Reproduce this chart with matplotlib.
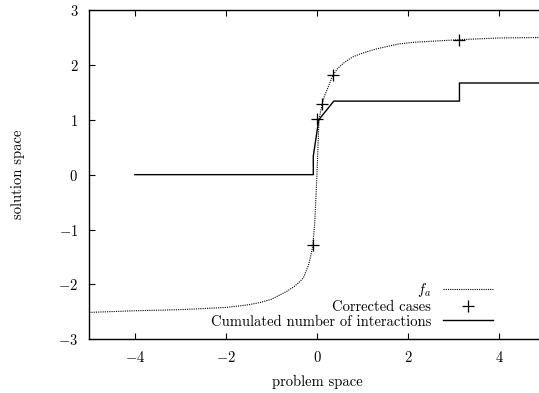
import numpy as np
import matplotlib
matplotlib.use("Agg")
import matplotlib.pyplot as plt

plt.rcParams['font.family'] = 'serif'
plt.rcParams['font.serif'] = ['cmr10']
plt.rcParams['mathtext.fontset'] = 'cm'
plt.rcParams['axes.unicode_minus'] = True
plt.rcParams['axes.formatter.use_mathtext'] = True

# f_a curve
fa_x = [-5.0, -4.0, -3.0, -2.0, -1.69, -1.5, -1.25, -1.0, -0.81, -0.65, -0.52, -0.40, -0.30,
        -0.19, -0.15, -0.12, -0.09, -0.05, 0.0,
        0.045, 0.11, 0.16, 0.22, 0.30, 0.36, 0.45, 0.58, 0.70, 0.80, 0.95, 1.10, 1.30, 1.46,
        1.79, 2.1, 2.5, 3.15, 4.0, 5.0]
fa_y = [-2.51, -2.48, -2.46, -2.42, -2.39, -2.37, -2.33, -2.27, -2.19, -2.12, -2.05, -1.97, -1.88,
        -1.66, -1.53, -1.42, -1.28, -0.9, 0.0,
        1.0, 1.27, 1.42, 1.54, 1.71, 1.82, 1.93, 2.03, 2.10, 2.15, 2.20, 2.24, 2.29, 2.32,
        2.38, 2.41, 2.43, 2.46, 2.49, 2.50]

# corrected cases
cc_x = [-0.09, 0.01, 0.10, 0.35, 3.13]
cc_y = [-1.28, 1.02, 1.28, 1.81, 2.46]

# cumulated number of interactions
ci_x = [-4.0, -0.08, -0.08, 0.04, 0.37, 3.13, 3.13, 5.0]
ci_y = [0.0, 0.0, 0.34, 1.0, 1.34, 1.34, 1.67, 1.67]

xticks = [-4, -2, 0, 2, 4]
yticks = [-3, -2, -1, 0, 1, 2, 3]

fig = plt.figure(figsize=(5.39, 3.93), dpi=100)
ax = fig.add_axes([89.3 / 539, 1 - 339.3 / 393, 455.3 / 539, 329.3 / 393])

ax.plot(fa_x, fa_y, color='black', lw=0.8, linestyle=(0, (1, 1)), label='$f_a$')
ax.plot(cc_x, cc_y, 'k+', ms=9, mew=0.9, linestyle='none', label='Corrected cases')
ax.plot(ci_x, ci_y, color='black', lw=1.0, label='Cumulated number of interactions')

ax.set_xlim(-5, 5)
ax.set_ylim(-3, 3)
ax.set_xticks(xticks)
ax.set_xticklabels(['$%d$' % t for t in xticks])
ax.set_yticks(yticks)
ax.set_yticklabels(['$%d$' % t for t in yticks])
ax.tick_params(direction='in', top=True, right=True, length=4, width=0.8,
               labelsize=10.5, pad=8)
for s in ax.spines.values():
    s.set_linewidth(1.0)

ax.set_xlabel('problem space', fontsize=10.5, labelpad=7)
ax.set_ylabel('solution space', fontsize=10.5, labelpad=24)

ax.legend(loc='lower right', bbox_to_anchor=(0.905, 0.006), frameon=False,
          markerfirst=False, fontsize=10.5, handlelength=3.4, handletextpad=0.8,
          labelspacing=0.08, borderaxespad=0.2)

fig.savefig('out.png', dpi=100)
